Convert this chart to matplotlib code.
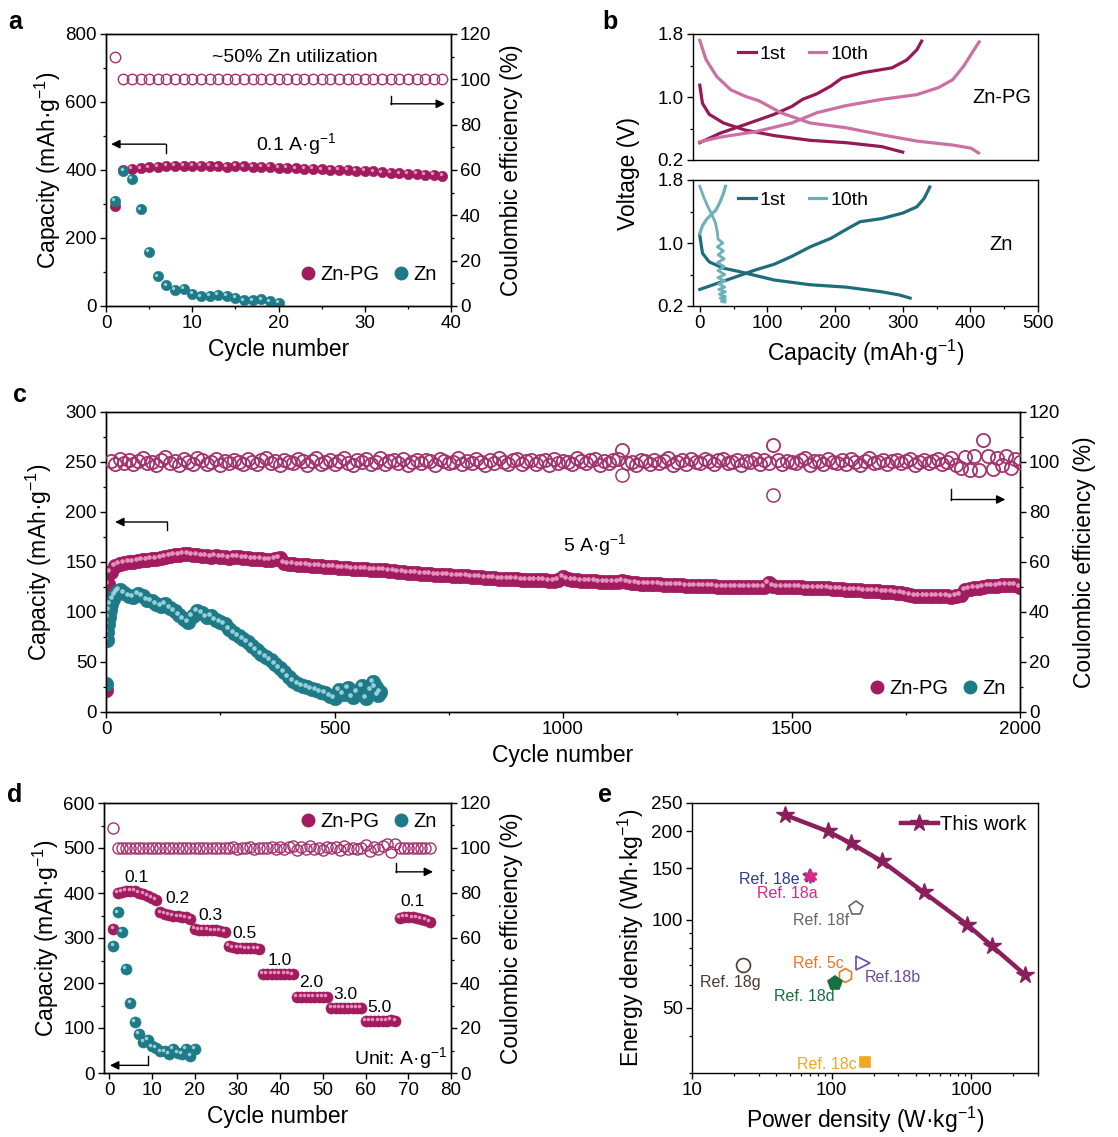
import numpy as np
import matplotlib
matplotlib.use('Agg')
import matplotlib.pyplot as plt
from matplotlib.transforms import offset_copy
from matplotlib.lines import Line2D
from matplotlib.ticker import MultipleLocator, FixedLocator, NullFormatter, FixedFormatter

plt.rcParams['font.family'] = ['Liberation Sans', 'DejaVu Sans']
plt.rcParams['mathtext.fontset'] = 'custom'
plt.rcParams['mathtext.rm'] = 'Liberation Sans'
plt.rcParams['mathtext.default'] = 'regular'

# ---------------- colours ----------------
PG = '#A01C5E'; PG_HL = '#F2A6CC'
ZN = '#1F7A88'; ZN_HL = '#A8E0E8'
CE = '#A3336F'

# ---------------- panel a data ----------------
a_cyc_pg = list(range(1, 40))
a_cap_pg = [295, 400, 404, 405, 408, 410, 412, 413, 412, 412, 412, 412, 411, 410, 412, 411, 410, 410, 409, 407,
            407, 405, 404, 403, 402, 401, 400, 400, 398, 397, 396, 393, 391, 390, 389, 388, 386, 385, 383]
a_cyc_zn = list(range(1, 21))
a_cap_zn = [309, 397, 375, 284, 159, 87, 61, 48, 50, 36, 28, 30, 32, 30, 25, 17, 17, 20, 14, 9]
a_ce_pg = [109.7, 100.2, 100.1, 100.0, 100.1, 100.0, 100.0, 100.1, 100.0, 100.0, 100.0, 100.1, 100.0, 100.0,
           100.0, 100.1, 100.0, 100.0, 100.0, 100.0, 100.1, 100.0, 100.0, 100.0, 100.0, 100.0, 100.1, 100.0,
           100.0, 100.0, 100.0, 100.0, 100.0, 100.1, 100.0, 100.0, 100.0, 100.0, 100.0]

# ---------------- panel b data ----------------
b_pg1_dis_c = [0, 4, 14, 35, 67, 110, 163, 216, 269, 300]
b_pg1_dis_v = [1.15, 0.92, 0.78, 0.67, 0.58, 0.51, 0.45, 0.42, 0.37, 0.30]
b_pg1_chg_c = [0, 30, 67, 110, 136, 152, 173, 194, 210, 242, 284, 306, 321, 328]
b_pg1_chg_v = [0.42, 0.54, 0.65, 0.78, 0.88, 0.97, 1.04, 1.14, 1.24, 1.31, 1.37, 1.47, 1.60, 1.71]
b_pg10_dis_c = [0, 9, 25, 46, 67, 88, 120, 163, 216, 269, 321, 374, 401, 412]
b_pg10_dis_v = [1.72, 1.48, 1.26, 1.09, 1.01, 0.95, 0.80, 0.67, 0.61, 0.52, 0.44, 0.39, 0.35, 0.29]
b_pg10_chg_c = [0, 30, 83, 136, 173, 216, 269, 321, 353, 374, 390, 401, 413]
b_pg10_chg_v = [0.43, 0.49, 0.56, 0.67, 0.80, 0.89, 0.97, 1.03, 1.12, 1.22, 1.39, 1.54, 1.70]
b_zn1_dis_c = [0, 4, 14, 35, 57, 110, 163, 216, 269, 295, 311]
b_zn1_dis_v = [1.10, 0.87, 0.76, 0.68, 0.64, 0.53, 0.47, 0.44, 0.38, 0.34, 0.30]
b_zn1_chg_c = [0, 30, 83, 110, 136, 163, 194, 216, 237, 269, 300, 321, 332, 340]
b_zn1_chg_v = [0.41, 0.50, 0.66, 0.73, 0.83, 0.95, 1.06, 1.17, 1.27, 1.31, 1.38, 1.46, 1.57, 1.71]
b_zn10_dis_c = [0, 6, 12, 18, 23, 26, 27, 34, 26, 35, 27, 36, 26, 36, 27, 37, 27, 37, 28, 37,
                28, 38, 29, 38, 30, 38, 32, 37]
b_zn10_dis_v = [1.72, 1.58, 1.46, 1.36, 1.26, 1.14, 1.05, 1.00, 0.95, 0.90, 0.85, 0.80, 0.75, 0.70,
                0.65, 0.60, 0.56, 0.52, 0.48, 0.44, 0.41, 0.38, 0.35, 0.32, 0.30, 0.28, 0.26, 0.25]
b_zn10_chg_c = [0, 4, 10, 17, 24, 30, 35, 38]
b_zn10_chg_v = [1.12, 1.22, 1.30, 1.36, 1.42, 1.52, 1.63, 1.72]

# ---------------- panel c data ----------------
c_cyc_pg = [1, 2, 3, 5] + list(range(10, 2001, 10))
c_cap_pg = [22, 97, 113, 128,
    140, 146, 148, 149, 150, 150, 151, 152, 152, 153,
    153, 154, 155, 156, 157, 157, 158, 158, 157, 157,
    156, 156, 155, 156, 155, 155, 154, 155, 155, 154,
    154, 153, 153, 153, 152, 152, 153, 154, 149, 148,
    148, 147, 147, 147, 146, 146, 146, 145, 145, 145,
    144, 144, 144, 143, 143, 143, 143, 142, 142, 142,
    142, 141, 141, 140, 140, 139, 139, 139, 138, 138,
    138, 137, 137, 137, 137, 136, 136, 136, 136, 135,
    135, 135, 134, 134, 134, 133, 133, 133, 133, 133,
    132, 132, 132, 132, 132, 132, 131, 131, 132, 135,
    133, 132, 132, 131, 131, 131, 131, 130, 130, 130,
    130, 130, 131, 130, 129, 129, 128, 128, 128, 128,
    128, 127, 127, 127, 127, 127, 126, 126, 126, 126,
    126, 126, 126, 125, 125, 125, 125, 125, 125, 125,
    125, 125, 125, 125, 129, 126, 125, 125, 125, 125,
    125, 125, 124, 124, 124, 124, 124, 124, 123, 123,
    123, 122, 122, 122, 122, 121, 121, 121, 121, 120,
    120, 120, 119, 119, 118, 117, 116, 116, 116, 116,
    116, 116, 116, 116, 115, 116, 117, 122, 123, 124,
    124, 125, 126, 126, 126, 127, 127, 127, 127, 125]
c_cyc_ce = list(range(10, 2001, 10))
c_ce_pg = [
    100.6, 99.4, 101.3, 99.8, 100.9, 99.1, 100.4, 101.6, 99.6, 100.2,
    99.0, 100.8, 101.9, 99.5, 100.3, 98.9, 101.2, 100.0, 99.3, 101.5,
    100.7, 99.2, 100.1, 101.4, 98.8, 100.5, 99.7, 101.0, 100.2, 99.4,
    101.3, 100.0, 99.1, 100.8, 101.7, 99.6, 100.3, 98.9, 100.9, 100.1,
    99.5, 101.1, 100.4, 99.0, 100.6, 101.8, 99.3, 100.0, 100.9, 99.2,
    100.4, 101.5, 99.7, 98.8, 100.7, 100.2, 101.2, 99.4, 100.0, 101.6,
    99.1, 100.5, 100.9, 99.6, 101.3, 98.9, 100.1, 100.8, 99.8, 101.0,
    100.3, 99.0, 101.4, 100.6, 99.5, 100.0, 101.7, 99.2, 100.4, 99.7,
    101.1, 100.2, 98.8, 100.9, 99.6, 101.5, 100.0, 99.3, 100.7, 101.2,
    99.4, 100.5, 101.0, 99.1, 100.3, 100.8, 98.9, 101.4, 99.8, 100.6,
    100.1, 99.2, 101.6, 100.4, 99.5, 100.9, 101.2, 99.0, 100.3, 99.7,
    100.8, 101.3, 104.8, 99.6, 100.2, 98.8, 101.0, 100.5, 99.3, 100.9,
    99.7, 100.4, 101.5, 99.0, 100.1, 100.7, 99.4, 101.1, 100.0, 99.6,
    101.2, 100.3, 99.1, 100.8, 101.4, 99.5, 100.2, 100.9, 98.9, 100.6,
    100.0, 101.3, 99.4, 100.7, 99.8, 107.0, 101.0, 99.2, 100.5, 100.1,
    99.6, 100.9, 101.5, 99.0, 100.3, 100.6, 99.3, 101.2, 100.0, 99.7,
    100.8, 99.4, 101.1, 100.2, 98.8, 100.5, 101.6, 99.7, 100.1, 100.9,
    99.2, 100.6, 101.0, 99.5, 100.3, 101.4, 99.0, 100.0, 100.7, 99.6,
    100.4, 101.2, 99.3, 100.0, 101.5, 98.7, 97.5, 102.0, 97.0, 102.5,
    96.8, 109.0, 102.3, 97.4, 101.8, 99.0, 102.6, 97.8, 101.2, 100.0]
c_cyc_ce_out = [1130, 1460]
c_ce_out = [94.8, 87.0]
c_cyc_zn = [1, 2, 3, 4, 6, 8, 10, 15, 20, 25, 30, 40, 50, 60, 70, 80, 90, 100, 110, 120, 130, 140, 150,
            160, 170, 180, 190, 200, 210, 220, 230, 240, 250, 260, 270, 280, 290, 300, 310, 320, 330, 340,
            350, 360, 370, 380, 390, 400, 410, 420, 430, 440, 450, 460, 470, 480, 490, 500, 510, 520, 530,
            540, 550, 560, 570, 580, 585, 590, 595, 600]
c_cap_zn = [28, 72, 80, 88, 95, 102, 108, 113, 117, 120, 122, 119, 116, 115, 118, 116, 112, 111, 108, 106,
            108, 104, 101, 97, 93, 90, 96, 101, 99, 95, 96, 92, 90, 88, 83, 79, 76, 73, 70, 66, 62, 58,
            55, 52, 48, 44, 40, 35, 31, 28, 26, 25, 23, 22, 20, 19, 16, 14, 22, 18, 24, 15, 20, 26, 14,
            22, 30, 25, 17, 20]

# ---------------- panel d data ----------------
d_cyc_pg = list(range(1, 76))
d_cap_pg = [320,
            400, 403, 405, 405, 404, 401, 398, 394, 390, 385,
            357, 353, 351, 350, 348, 347, 346, 342,
            320, 318, 318, 318, 317, 317, 316, 313,
            282, 279, 278, 278, 277, 277, 277, 275,
            221, 220, 220, 220, 220, 220, 220, 219,
            170, 170, 170, 170, 170, 170, 170, 169,
            145, 145, 145, 145, 145, 145, 145, 145,
            115, 115, 115, 115, 115, 116, 118, 115,
            345, 347, 347, 346, 344, 342, 340, 336]
d_cyc_zn = list(range(1, 21))
d_cap_zn = [283, 357, 313, 231, 155, 113, 87, 70, 74, 59, 55, 48, 48, 43, 53, 44, 43, 53, 38, 53]
d_ce_pg = [108.9,
           100.0, 100.1, 100.0, 99.9, 100.0, 100.1, 100.0, 100.0, 99.9, 100.0,
           100.1, 100.0, 99.9, 100.0, 100.1, 100.0, 100.0, 99.9, 100.1, 100.0,
           100.0, 100.1, 99.9, 100.0, 100.2, 99.8, 100.0, 100.3, 99.7, 100.1,
           100.0, 100.6, 99.6, 100.2, 100.0, 99.8, 100.3, 99.7, 100.4, 99.5,
           100.3, 100.8, 99.2, 100.6, 99.5, 101.0, 99.7, 100.2, 99.3, 100.6,
           99.8, 100.5, 99.0, 100.8, 99.5, 100.2, 99.4, 100.0, 101.2, 98.5,
           100.5, 99.4, 100.9, 101.6, 98.3, 101.8, 100.0, 100.0, 100.2, 99.9,
           100.0, 100.1, 99.9, 100.0]
d_rate_labels = ['0.1', '0.2', '0.3', '0.5', '1.0', '2.0', '3.0', '5.0', '0.1']
d_rate_x = [6.3, 15.9, 23.8, 31.6, 39.9, 47.2, 55.4, 63.3, 71.1]
d_rate_y = [435, 387, 351, 310, 251, 202, 175, 146, 381]

# ---------------- panel e data ----------------
e_power = [46, 94, 138, 230, 456, 938, 1396, 2437]
e_energy = [228, 200, 182, 158, 124, 96, 81.5, 64.7]
e_ref_names = ['Ref. 18e', 'Ref. 18a', 'Ref. 18f', 'Ref. 18g', 'Ref. 5c', 'Ref. 18d', 'Ref.18b', 'Ref. 18c']
e_ref_p = [70.5, 70.5, 148.6, 23.0, 124.6, 106.0, 167.0, 174.0]
e_ref_e = [141, 141, 109.6, 70, 65, 61, 71, 32.8]
e_ref_colors = ['#2E3D8F', '#D42A86', '#666666', '#4A3A30', '#E8762B', '#167040', '#6A4C9C', '#F0A81E']
e_ref_markers = ['*', (6, 1, 0), 'p', 'o', 'h', 'p', '>', 's']
e_ref_filled = [True, True, False, False, False, True, False, True]
e_lab_p = [36, 47.9, 84, 18.8, 80, 63.5, 275, 93]
e_lab_e = [137, 123, 99, 61, 71, 54.8, 63.5, 32]

# ---------------- figure ----------------
fig = plt.figure(figsize=(11.18, 11.37), dpi=100)
W, H = 1118.0, 1137.0


def axes_px(x0, y0, x1, y1):
    return fig.add_axes([x0 / W, 1 - y1 / H, (x1 - x0) / W, (y1 - y0) / H])


TICK = 13.5
LAB = 16.5


def style(ax):
    for sp in ax.spines.values():
        sp.set_linewidth(1.0)
    ax.tick_params(which='major', direction='out', length=4.5, width=1.0, labelsize=TICK, pad=2)
    ax.tick_params(which='minor', direction='out', length=2.5, width=0.9)


def balls(ax, x, y, color, hl, ms=7.0, z=3):
    ax.plot(x, y, 'o', ms=ms, mfc=color, mec=color, mew=0.4, ls='none', zorder=z)
    tr = offset_copy(ax.transData, fig=fig, x=-ms * 0.16, y=ms * 0.16, units='points')
    ax.plot(x, y, 'o', ms=ms * 0.32, mfc=hl, mec='none', alpha=0.85, ls='none',
            transform=tr, zorder=z + 0.1)


def rings(ax, x, y, ms=7.0, mew=1.0, z=3):
    ax.plot(x, y, 'o', ms=ms, mfc='none', mec=CE, mew=mew, ls='none', zorder=z)


def ball_legend(ax, loc, bbox=None):
    h = [Line2D([], [], marker='o', ls='none', ms=9, mfc=PG, mec=PG),
         Line2D([], [], marker='o', ls='none', ms=9, mfc=ZN, mec=ZN)]
    kw = dict(loc=loc, ncol=2, frameon=False, fontsize=14.5, handletextpad=0.1,
              columnspacing=0.6, handlelength=1.0, borderaxespad=0.3)
    if bbox is not None:
        kw['bbox_to_anchor'] = bbox
    ax.legend(h, ['Zn-PG', 'Zn'], **kw)


def elbow_arrow(ax, x0, y0, y1, x1):
    ax.plot([x0, x0], [y0, y1], color='k', lw=1.0, zorder=5)
    ax.annotate('', xy=(x1, y1), xytext=(x0, y1),
                arrowprops=dict(arrowstyle='-|>', color='k', lw=1.0, mutation_scale=13,
                                shrinkA=0, shrinkB=0), zorder=5)


cap_label = 'Capacity (mAh·g$^{-1}$)'
ce_label = 'Coulombic efficiency (%)'

# ---------------- panel a ----------------
ax = axes_px(106, 34, 451, 306)
style(ax)
balls(ax, a_cyc_pg, a_cap_pg, PG, PG_HL, ms=7.5)
balls(ax, a_cyc_zn, a_cap_zn, ZN, ZN_HL, ms=7.5, z=4)
ax.set_xlim(0, 40)
ax.set_ylim(0, 800)
ax.xaxis.set_major_locator(MultipleLocator(10))
ax.xaxis.set_minor_locator(MultipleLocator(5))
ax.yaxis.set_major_locator(MultipleLocator(200))
ax.yaxis.set_minor_locator(MultipleLocator(100))
ax.set_xlabel('Cycle number', fontsize=LAB, labelpad=4)
ax.set_ylabel(cap_label, fontsize=LAB, labelpad=2)
ax.text(21.9, 730, '~50% Zn utilization', ha='center', va='center', fontsize=14)
ax.text(22, 476, '0.1 A·g$^{-1}$', ha='center', va='center', fontsize=14)
elbow_arrow(ax, 6.9, 451, 476, 0.6)
ball_legend(ax, 'lower right', (1.0, 0.03))
ax2 = ax.twinx()
style(ax2)
rings(ax2, a_cyc_pg, a_ce_pg, ms=7.5)
ax2.set_ylim(0, 120)
ax2.yaxis.set_major_locator(MultipleLocator(20))
ax2.yaxis.set_minor_locator(MultipleLocator(10))
ax2.set_ylabel(ce_label, fontsize=LAB, labelpad=6)
elbow_arrow(ax2, 33, 92.5, 89.2, 39.3)

# ---------------- panel b ----------------
bt = axes_px(693, 34, 1038, 160)
bb = axes_px(693, 180, 1038, 306)
PG1, PG10 = '#961957', '#CC6FA3'
ZN1, ZN10 = '#1F6D7B', '#6DB0BA'
bt.plot(b_pg1_dis_c, b_pg1_dis_v, color=PG1, lw=2.3)
bt.plot(b_pg1_chg_c, b_pg1_chg_v, color=PG1, lw=2.3)
bt.plot(b_pg10_dis_c, b_pg10_dis_v, color=PG10, lw=2.3)
bt.plot(b_pg10_chg_c, b_pg10_chg_v, color=PG10, lw=2.3)
bb.plot(b_zn1_dis_c, b_zn1_dis_v, color=ZN1, lw=2.3)
bb.plot(b_zn1_chg_c, b_zn1_chg_v, color=ZN1, lw=2.3)
bb.plot(b_zn10_dis_c, b_zn10_dis_v, color=ZN10, lw=2.0)
bb.plot(b_zn10_chg_c, b_zn10_chg_v, color=ZN10, lw=2.3)
for a_, c1, c10, name, ny in [(bt, PG1, PG10, 'Zn-PG', 0.99), (bb, ZN1, ZN10, 'Zn', 0.975)]:
    style(a_)
    a_.set_xlim(-10, 500)
    a_.set_ylim(0.2, 1.8)
    a_.set_yticks([0.2, 1.0, 1.8])
    a_.set_yticklabels(['0.2', '1.0', '1.8'])
    a_.yaxis.set_minor_locator(FixedLocator([0.6, 1.4]))
    a_.xaxis.set_major_locator(MultipleLocator(100))
    a_.xaxis.set_minor_locator(MultipleLocator(50))
    h = [Line2D([], [], color=c1, lw=2.3), Line2D([], [], color=c10, lw=2.3)]
    a_.legend(h, ['1st', '10th'], loc='upper left', bbox_to_anchor=(0.08, 1.05), ncol=2,
              frameon=False, fontsize=14, handlelength=0.9, handletextpad=0.2, columnspacing=1.2)
    a_.text(446, ny, name, ha='center', va='center', fontsize=14.5)
bt.tick_params(which='both', bottom=False, labelbottom=False)
bb.set_xlabel('Capacity (mAh·g$^{-1}$)', fontsize=LAB, labelpad=4)
fig.text(628 / W, 1 - 173 / H, 'Voltage (V)', rotation=90, ha='center', va='center', fontsize=LAB)

# ---------------- panel c ----------------
ax = axes_px(106, 412, 1020, 712)
style(ax)
balls(ax, c_cyc_pg, c_cap_pg, PG, PG_HL, ms=10.5)
balls(ax, c_cyc_zn, c_cap_zn, ZN, ZN_HL, ms=10.5, z=4)
ax.set_xlim(0, 2000)
ax.set_ylim(0, 300)
ax.xaxis.set_major_locator(MultipleLocator(500))
ax.xaxis.set_minor_locator(MultipleLocator(250))
ax.yaxis.set_major_locator(MultipleLocator(50))
ax.yaxis.set_minor_locator(MultipleLocator(25))
ax.set_xlabel('Cycle number', fontsize=LAB, labelpad=4)
ax.set_ylabel(cap_label, fontsize=LAB, labelpad=8)
ax.text(1070, 167, '5 A·g$^{-1}$', ha='center', va='center', fontsize=14)
elbow_arrow(ax, 134, 182, 190, 20)
ball_legend(ax, 'lower right', (1.0, 0.0))
ax2 = ax.twinx()
style(ax2)
rings(ax2, c_cyc_ce, c_ce_pg, ms=9.5, mew=1.3)
rings(ax2, c_cyc_ce_out, c_ce_out, ms=9.5, mew=1.1)
ax2.set_ylim(0, 120)
ax2.yaxis.set_major_locator(MultipleLocator(20))
ax2.yaxis.set_minor_locator(MultipleLocator(10))
ax2.set_ylabel(ce_label, fontsize=LAB, labelpad=9)
elbow_arrow(ax2, 1849, 89.4, 85.0, 1968)

# ---------------- panel d ----------------
ax = axes_px(104, 803, 451, 1073)
style(ax)
balls(ax, d_cyc_pg, d_cap_pg, PG, PG_HL, ms=8.0)
balls(ax, d_cyc_zn, d_cap_zn, ZN, ZN_HL, ms=8.0, z=4)
ax.set_xlim(-1.2, 80)
ax.set_ylim(0, 600)
ax.xaxis.set_major_locator(MultipleLocator(10))
ax.yaxis.set_major_locator(MultipleLocator(100))
ax.yaxis.set_minor_locator(MultipleLocator(50))
ax.set_xlabel('Cycle number', fontsize=LAB, labelpad=4)
ax.set_ylabel(cap_label, fontsize=LAB, labelpad=2)
for t, xx, yy in zip(d_rate_labels, d_rate_x, d_rate_y):
    ax.text(xx, yy, t, ha='center', va='center', fontsize=12.5)
ax.text(79, 33, 'Unit: A·g$^{-1}$', ha='right', va='center', fontsize=14)
elbow_arrow(ax, 9.0, 37, 17, 0.2)
ball_legend(ax, 'upper right', (1.0, 1.02))
ax2 = ax.twinx()
style(ax2)
rings(ax2, d_cyc_pg, d_ce_pg, ms=8.0)
ax2.set_ylim(0, 120)
ax2.yaxis.set_major_locator(MultipleLocator(20))
ax2.yaxis.set_minor_locator(MultipleLocator(10))
ax2.set_ylabel(ce_label, fontsize=LAB, labelpad=6)
elbow_arrow(ax2, 67.1, 93.4, 89.4, 75.8)

# ---------------- panel e ----------------
ax = axes_px(692, 803, 1038, 1073)
style(ax)
TW = '#8B1F5C'
ax.plot(e_power, e_energy, '-', color=TW, lw=3.2, marker='*', ms=13, mfc=TW, mec=TW, label='This work')
for nm, p, e, c, m, f in zip(e_ref_names, e_ref_p, e_ref_e, e_ref_colors, e_ref_markers, e_ref_filled):
    ax.plot([p], [e], ls='none', marker=m, ms=10 if m != 's' else 7.5,
            mfc=c if f else 'white', mec=c, mew=1.2)
for nm, p, e, c in zip(e_ref_names, e_lab_p, e_lab_e, e_ref_colors):
    ax.text(p, e, nm, color=c, ha='center', va='center', fontsize=11.5)
ax.set_xscale('log')
ax.set_yscale('log')
ax.set_xlim(10, 3000)
ax.set_ylim(30, 250)
ax.xaxis.set_major_locator(FixedLocator([10, 100, 1000]))
ax.xaxis.set_major_formatter(FixedFormatter(['10', '100', '1000']))
ax.xaxis.set_minor_locator(FixedLocator([20, 30, 40, 50, 60, 70, 80, 90, 200, 300, 400, 500, 600,
                                         700, 800, 900, 2000, 3000]))
ax.xaxis.set_minor_formatter(NullFormatter())
ax.yaxis.set_major_locator(FixedLocator([50, 100, 150, 200, 250]))
ax.yaxis.set_major_formatter(FixedFormatter(['50', '100', '150', '200', '250']))
ax.yaxis.set_minor_locator(FixedLocator([30, 40, 60, 70, 80, 90]))
ax.yaxis.set_minor_formatter(NullFormatter())
ax.set_xlabel('Power density (W·kg$^{-1}$)', fontsize=LAB, labelpad=4)
ax.set_ylabel('Energy density (Wh·kg$^{-1}$)', fontsize=LAB, labelpad=4)
ax.legend(loc='upper right', frameon=False, fontsize=14.5, handlelength=1.8, handletextpad=0.1,
          borderaxespad=0.2)

# ---------------- panel letters ----------------
for t, x, y in [('a', 15, 22), ('b', 610, 22), ('c', 20, 395), ('d', 15, 795), ('e', 605, 795)]:
    fig.text(x / W, 1 - y / H, t, fontsize=18, fontweight='bold', ha='center', va='center')

fig.savefig('out.png', dpi=100)
